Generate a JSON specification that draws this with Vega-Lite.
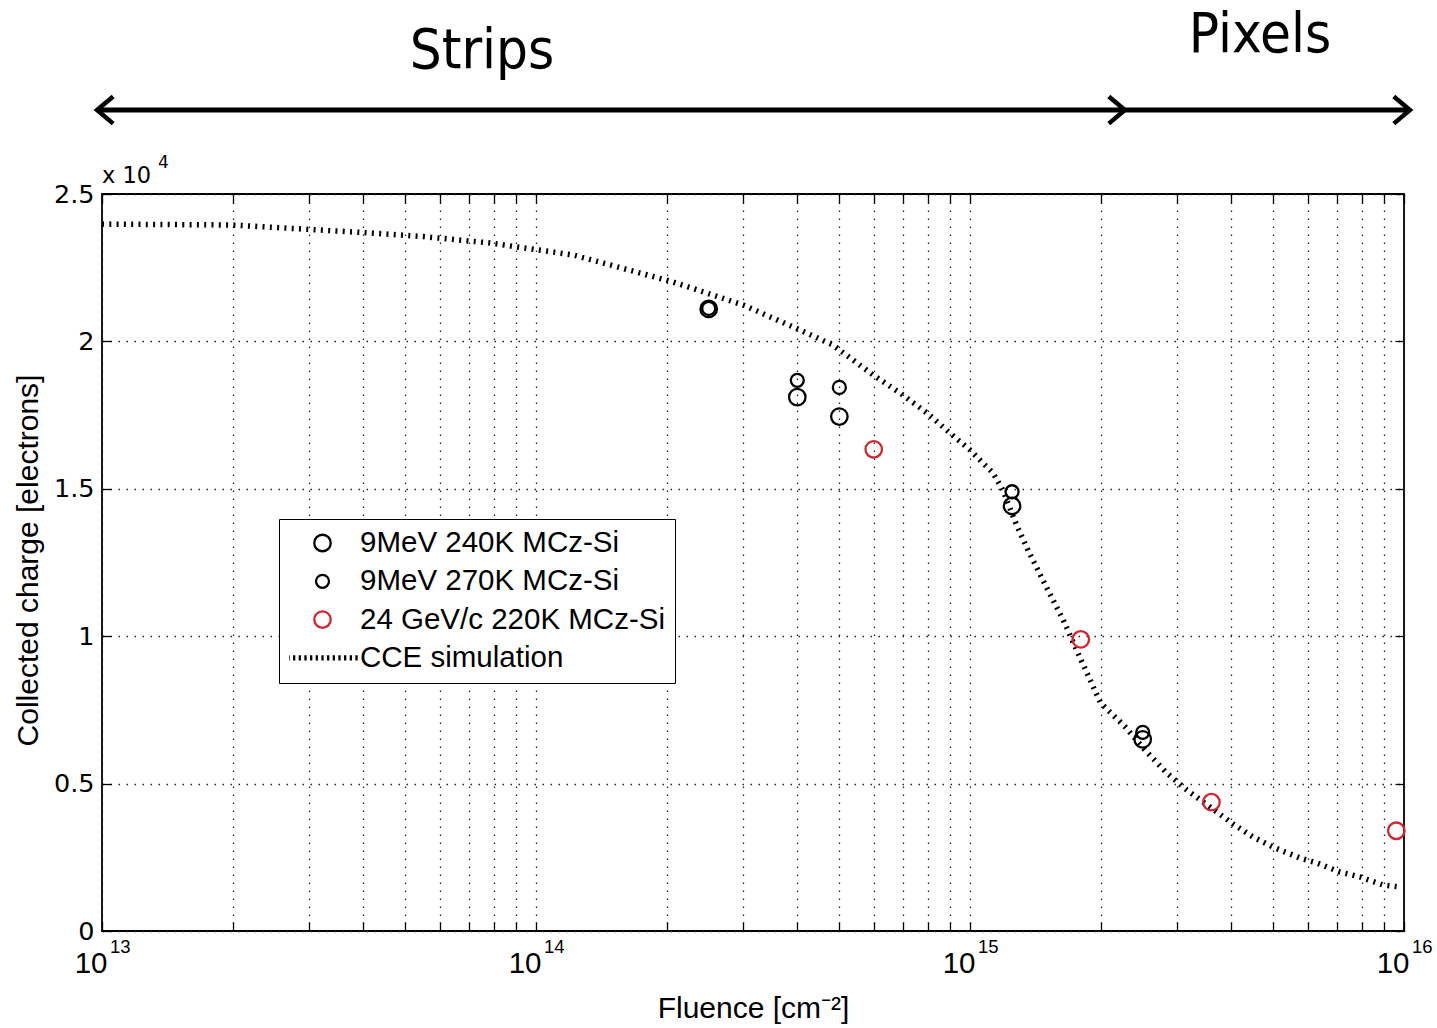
{
  "$schema": "https://vega.github.io/schema/vega-lite/v6.json",
  "width": 1302,
  "height": 737,
  "autosize": {"type": "none"},
  "padding": {"left": 102, "top": 194, "right": 33, "bottom": 97},
  "background": "white",
  "config": {
    "view": {"stroke": "black", "strokeWidth": 1.8},
    "font": "Liberation Sans"
  },
  "datasets": {
    "measured": [
      {"fluence": 2.5e14, "charge": 21100, "series": "9MeV 240K MCz-Si"},
      {"fluence": 4.0e14, "charge": 18110, "series": "9MeV 240K MCz-Si"},
      {"fluence": 5.0e14, "charge": 17450, "series": "9MeV 240K MCz-Si"},
      {"fluence": 1.25e15, "charge": 14420, "series": "9MeV 240K MCz-Si"},
      {"fluence": 2.5e15, "charge": 6500, "series": "9MeV 240K MCz-Si"},
      {"fluence": 2.5e14, "charge": 21120, "series": "9MeV 270K MCz-Si"},
      {"fluence": 4.0e14, "charge": 18680, "series": "9MeV 270K MCz-Si"},
      {"fluence": 5.0e14, "charge": 18440, "series": "9MeV 270K MCz-Si"},
      {"fluence": 1.25e15, "charge": 14900, "series": "9MeV 270K MCz-Si"},
      {"fluence": 2.5e15, "charge": 6740, "series": "9MeV 270K MCz-Si"},
      {"fluence": 6.0e14, "charge": 16340, "series": "24 GeV/c 220K MCz-Si"},
      {"fluence": 1.8e15, "charge": 9890, "series": "24 GeV/c 220K MCz-Si"},
      {"fluence": 3.6e15, "charge": 4370, "series": "24 GeV/c 220K MCz-Si"},
      {"fluence": 9.6e15, "charge": 3400, "series": "24 GeV/c 220K MCz-Si"}
    ],
    "simulation": [
      {"fluence": 1.0e13, "charge": 23980},
      {"fluence": 2.0e13, "charge": 23948},
      {"fluence": 3.02e13, "charge": 23796},
      {"fluence": 3.99e13, "charge": 23694},
      {"fluence": 5.49e13, "charge": 23558},
      {"fluence": 7.83e13, "charge": 23338},
      {"fluence": 1.22e14, "charge": 22931},
      {"fluence": 2.07e14, "charge": 22015},
      {"fluence": 3.0e14, "charge": 21235},
      {"fluence": 4.06e14, "charge": 20387},
      {"fluence": 4.83e14, "charge": 19878},
      {"fluence": 5.98e14, "charge": 18860},
      {"fluence": 6.9e14, "charge": 18250},
      {"fluence": 7.96e14, "charge": 17571},
      {"fluence": 8.99e14, "charge": 16893},
      {"fluence": 1.0e15, "charge": 16316},
      {"fluence": 1.13e15, "charge": 15536},
      {"fluence": 1.19e15, "charge": 14959},
      {"fluence": 1.28e15, "charge": 13772},
      {"fluence": 1.37e15, "charge": 12822},
      {"fluence": 1.5e15, "charge": 11669},
      {"fluence": 1.64e15, "charge": 10549},
      {"fluence": 1.76e15, "charge": 9532},
      {"fluence": 1.86e15, "charge": 8752},
      {"fluence": 2.0e15, "charge": 7734},
      {"fluence": 2.28e15, "charge": 6920},
      {"fluence": 2.53e15, "charge": 6140},
      {"fluence": 2.84e15, "charge": 5360},
      {"fluence": 3.16e15, "charge": 4783},
      {"fluence": 3.52e15, "charge": 4274},
      {"fluence": 4.04e15, "charge": 3630},
      {"fluence": 4.49e15, "charge": 3189},
      {"fluence": 4.99e15, "charge": 2849},
      {"fluence": 5.76e15, "charge": 2476},
      {"fluence": 6.3e15, "charge": 2307},
      {"fluence": 7.12e15, "charge": 2001},
      {"fluence": 7.92e15, "charge": 1832},
      {"fluence": 8.94e15, "charge": 1560},
      {"fluence": 9.79e15, "charge": 1493}
    ],
    "decades": [
      {"fluence": 1e13, "exp": "13"},
      {"fluence": 1e14, "exp": "14"},
      {"fluence": 1e15, "exp": "15"},
      {"fluence": 1e16, "exp": "16"}
    ],
    "spans": [
      {"label": "Strips", "start": 9.74e12, "end": 2.275e15},
      {"label": "Pixels", "start": 2.275e15, "end": 1.032e16}
    ],
    "spanLabels": [
      {"label": "Strips", "fluence": 7.51e13, "charge": 29274},
      {"label": "Pixels", "fluence": 4.66e15, "charge": 29817}
    ]
  },
  "layer": [
    {
      "data": {"name": "simulation"},
      "mark": {"type": "line", "color": "black", "strokeWidth": 5.5, "strokeDash": [2, 5.3], "strokeCap": "butt", "interpolate": "linear"},
      "encoding": {
        "x": {
          "field": "fluence", "type": "quantitative",
          "scale": {"type": "log", "domain": [1e13, 1e16], "nice": false},
          "axis": {
            "orient": "top", "title": null, "labels": false, "grid": false, "domain": false,
            "ticks": true, "tickSize": -9, "tickColor": "black", "tickWidth": 1.3,
            "values": [1e13, 2e13, 3e13, 4e13, 5e13, 6e13, 7e13, 8e13, 9e13, 1e14, 2e14, 3e14, 4e14, 5e14, 6e14, 7e14, 8e14, 9e14, 1e15, 2e15, 3e15, 4e15, 5e15, 6e15, 7e15, 8e15, 9e15, 1e16]
          }
        },
        "y": {
          "field": "charge", "type": "quantitative",
          "scale": {"domain": [0, 25000], "nice": false, "zero": false},
          "axis": {
            "orient": "right", "title": null, "labels": false, "grid": false, "domain": false,
            "ticks": true, "tickSize": -9, "tickColor": "black", "tickWidth": 1.3,
            "values": [0, 5000, 10000, 15000, 20000, 25000]
          }
        }
      }
    },
    {
      "data": {"name": "measured"},
      "mark": {"type": "point", "filled": false, "strokeWidth": 2.3, "opacity": 1},
      "encoding": {
        "x": {
          "field": "fluence", "type": "quantitative",
          "scale": {"type": "log", "domain": [1e13, 1e16], "nice": false},
          "axis": {
            "orient": "bottom", "domain": false,
            "values": [1e13, 2e13, 3e13, 4e13, 5e13, 6e13, 7e13, 8e13, 9e13, 1e14, 2e14, 3e14, 4e14, 5e14, 6e14, 7e14, 8e14, 9e14, 1e15, 2e15, 3e15, 4e15, 5e15, 6e15, 7e15, 8e15, 9e15, 1e16],
            "labelExpr": "indexof([1e13, 1e14, 1e15, 1e16], datum.value) >= 0 ? '10' : ''",
            "labelFont": "Liberation Sans", "labelFontSize": 29.5, "labelColor": "black",
            "labelAlign": "right", "labelOffset": 5, "labelBaseline": "alphabetic", "labelPadding": 50.7,
            "labelFlush": false, "labelOverlap": false, "labelBound": false,
            "grid": true, "gridColor": "#222", "gridDash": [1.5, 6.5], "gridWidth": 1.3,
            "ticks": true, "tickSize": -9, "tickColor": "black", "tickWidth": 1.3,
            "title": "Fluence [cm⁻²]", "titleFont": "Liberation Sans", "titleFontSize": 30, "titleFontWeight": "normal",
            "titleColor": "black", "titleX": 651, "titleY": 86, "titleAlign": "center", "titleBaseline": "alphabetic"
          }
        },
        "y": {
          "field": "charge", "type": "quantitative",
          "scale": {"domain": [0, 25000], "nice": false, "zero": false},
          "axis": {
            "orient": "left", "domain": false,
            "values": [0, 5000, 10000, 15000, 20000, 25000],
            "labelExpr": "(datum.value / 10000) + ''",
            "labelFont": "DejaVu Sans", "labelFontSize": 25.5, "labelColor": "black",
            "labelPadding": 17, "labelFlush": false, "labelOverlap": false,
            "grid": true, "gridColor": "#222", "gridDash": [1.5, 6.5], "gridWidth": 1.3,
            "ticks": true, "tickSize": -9, "tickColor": "black", "tickWidth": 1.3,
            "title": "Collected charge [electrons]", "titleFont": "Liberation Sans", "titleFontSize": 30, "titleFontWeight": "normal",
            "titleColor": "black", "titleX": -65, "titleY": 366, "titleAngle": -90, "titleAlign": "center", "titleBaseline": "alphabetic"
          }
        },
        "color": {
          "field": "series", "type": "nominal",
          "scale": {
            "domain": ["9MeV 240K MCz-Si", "9MeV 270K MCz-Si", "24 GeV/c 220K MCz-Si", "CCE simulation"],
            "range": ["black", "black", "#d4252c", "black"]
          },
          "legend": {
            "title": null, "orient": "none", "legendX": 177, "legendY": 325, "direction": "vertical",
            "labelFont": "Liberation Sans", "labelFontSize": 29.5, "labelColor": "black", "labelLimit": 600,
            "clipHeight": 28, "rowPadding": 8.3, "padding": 10, "symbolOffset": -2, "labelOffset": 2,
            "symbolStrokeWidth": 2.3, "strokeColor": "black", "fillColor": "white", "cornerRadius": 0,
            "encode": {"legend": {"update": {"strokeWidth": {"value": 1.6}}}}
          }
        },
        "shape": {
          "field": "series", "type": "nominal",
          "scale": {
            "domain": ["9MeV 240K MCz-Si", "9MeV 270K MCz-Si", "24 GeV/c 220K MCz-Si", "CCE simulation"],
            "range": ["circle", "circle", "circle", "M-1,-0.08V0.08M-0.833,-0.08V0.08M-0.667,-0.08V0.08M-0.5,-0.08V0.08M-0.333,-0.08V0.08M-0.167,-0.08V0.08M0,-0.08V0.08M0.167,-0.08V0.08M0.333,-0.08V0.08M0.5,-0.08V0.08M0.667,-0.08V0.08M0.833,-0.08V0.08M1,-0.08V0.08"]
          }
        },
        "size": {
          "field": "series", "type": "nominal",
          "scale": {
            "type": "ordinal",
            "domain": ["9MeV 240K MCz-Si", "9MeV 270K MCz-Si", "24 GeV/c 220K MCz-Si", "CCE simulation"],
            "range": [272, 169, 272, 4624]
          }
        }
      }
    },
    {
      "data": {"name": "decades"},
      "mark": {"type": "text", "align": "left", "baseline": "alphabetic", "dx": 8, "dy": 22, "font": "Liberation Sans", "fontSize": 18.5, "color": "black"},
      "encoding": {
        "x": {"field": "fluence", "type": "quantitative", "scale": {"type": "log", "domain": [1e13, 1e16], "nice": false}, "axis": null},
        "y": {"datum": 0, "type": "quantitative", "scale": {"domain": [0, 25000], "nice": false, "zero": false}, "axis": null},
        "text": {"field": "exp"}
      }
    },
    {
      "data": {"values": [{"multiplier": "x 10", "power": "4"}]},
      "layer": [
        {
          "mark": {"type": "text", "align": "left", "baseline": "alphabetic", "dx": 0, "dy": -11, "font": "DejaVu Sans", "fontSize": 22.5, "color": "black"},
          "encoding": {
            "x": {"datum": 1e13, "type": "quantitative", "scale": {"type": "log", "domain": [1e13, 1e16], "nice": false}, "axis": null},
            "y": {"datum": 25000, "type": "quantitative", "scale": {"domain": [0, 25000], "nice": false, "zero": false}, "axis": null},
            "text": {"field": "multiplier"}
          }
        },
        {
          "mark": {"type": "text", "align": "left", "baseline": "alphabetic", "dx": 56, "dy": -26, "font": "DejaVu Sans", "fontSize": 17, "color": "black"},
          "encoding": {
            "x": {"datum": 1e13, "type": "quantitative", "scale": {"type": "log", "domain": [1e13, 1e16], "nice": false}, "axis": null},
            "y": {"datum": 25000, "type": "quantitative", "scale": {"domain": [0, 25000], "nice": false, "zero": false}, "axis": null},
            "text": {"field": "power"}
          }
        }
      ]
    },
    {
      "data": {"name": "spans"},
      "mark": {"type": "rule", "color": "black", "strokeWidth": 5, "strokeCap": "butt"},
      "encoding": {
        "x": {"field": "start", "type": "quantitative", "scale": {"type": "log", "domain": [1e13, 1e16], "nice": false}, "axis": null},
        "x2": {"field": "end"},
        "y": {"datum": 27849, "type": "quantitative", "scale": {"domain": [0, 25000], "nice": false, "zero": false}, "axis": null}
      }
    },
    {
      "data": {"name": "spans"},
      "mark": {"type": "point", "shape": "M-0.95,-0.8L0,0L-0.95,0.8", "size": 1156, "filled": false, "stroke": "black", "strokeWidth": 4.5, "opacity": 1, "strokeJoin": "miter"},
      "encoding": {
        "x": {"field": "end", "type": "quantitative", "scale": {"type": "log", "domain": [1e13, 1e16], "nice": false}, "axis": null},
        "y": {"datum": 27849, "type": "quantitative", "scale": {"domain": [0, 25000], "nice": false, "zero": false}, "axis": null}
      }
    },
    {
      "data": {"name": "spans"},
      "transform": [{"filter": "datum.label === 'Strips'"}],
      "mark": {"type": "point", "shape": "M0.95,-0.8L0,0L0.95,0.8", "size": 1156, "filled": false, "stroke": "black", "strokeWidth": 4.5, "opacity": 1, "strokeJoin": "miter"},
      "encoding": {
        "x": {"field": "start", "type": "quantitative", "scale": {"type": "log", "domain": [1e13, 1e16], "nice": false}, "axis": null},
        "y": {"datum": 27849, "type": "quantitative", "scale": {"domain": [0, 25000], "nice": false, "zero": false}, "axis": null}
      }
    },
    {
      "data": {"name": "spanLabels"},
      "mark": {"type": "text", "align": "center", "baseline": "alphabetic", "font": "DejaVu Sans Condensed, Liberation Sans Narrow, DejaVu Sans", "fontSize": 56, "color": "black"},
      "encoding": {
        "x": {"field": "fluence", "type": "quantitative", "scale": {"type": "log", "domain": [1e13, 1e16], "nice": false}, "axis": null},
        "y": {"field": "charge", "type": "quantitative", "scale": {"domain": [0, 25000], "nice": false, "zero": false}, "axis": null},
        "text": {"field": "label"}
      }
    }
  ]
}
